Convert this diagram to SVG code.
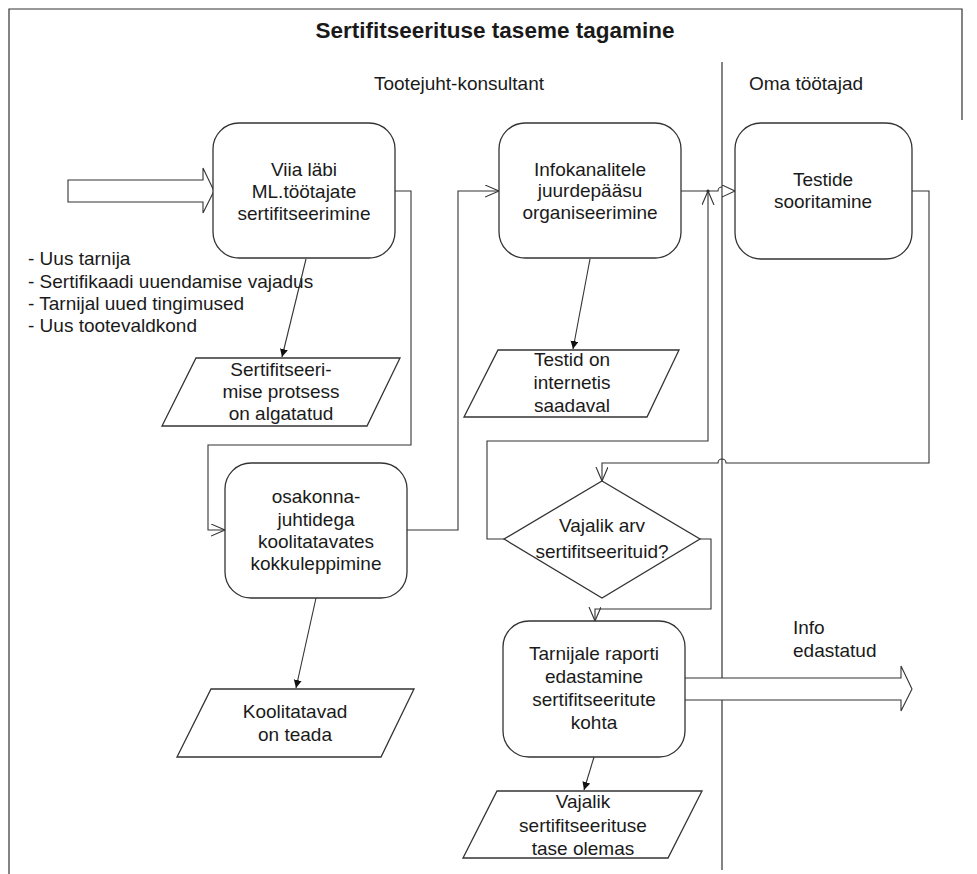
<svg xmlns="http://www.w3.org/2000/svg" width="977" height="874" viewBox="0 0 977 874">
  <style>
    .frame { fill: none; stroke: #333; stroke-width: 1.2; }
    .box { fill: #fff; stroke: #333; stroke-width: 1.3; }
    .conn { fill: none; stroke: #333; stroke-width: 1.1; }
    .big { fill: #fff; stroke: #333; stroke-width: 1.1; }
    text { font-family: "Liberation Sans", Arial, sans-serif; font-size: 19px; fill: #1a1a1a; }
    .c { text-anchor: middle; }
    .title { font-size: 22.5px; font-weight: bold; }
  </style>
  <defs>
    <marker id="open" markerUnits="userSpaceOnUse" markerWidth="16" markerHeight="14" refX="14" refY="6" orient="auto">
      <path d="M0,0 L14,6 L0,12" fill="none" stroke="#333" stroke-width="1.1"/>
    </marker>
    <marker id="tri" markerUnits="userSpaceOnUse" markerWidth="16" markerHeight="14" refX="13" refY="6" orient="auto">
      <path d="M0,0 L13,6 L0,12 Z" fill="#fff" stroke="#333" stroke-width="1.1"/>
    </marker>
    <marker id="solid" markerUnits="userSpaceOnUse" markerWidth="10" markerHeight="10" refX="8" refY="4" orient="auto">
      <path d="M0,0 L8,4 L0,8 Z" fill="#111"/>
    </marker>
  </defs>

  <!-- page frame, title, swimlanes -->
  <g id="frame">
    <path class="frame" d="M9,874 V9 H962 V120"/>
    <text class="title c" x="495" y="38">Sertifitseerituse taseme tagamine</text>
    <text class="c" x="459" y="90">Tootejuht-konsultant</text>
    <text class="c" x="806" y="90">Oma töötajad</text>
    <line class="frame" x1="722" y1="62" x2="722" y2="870" stroke-width="1.1"/>
  </g>

  <!-- triggers -->
  <g id="triggers">
    <text x="28" y="265">- Uus tarnija</text>
    <text x="28" y="288">- Sertifikaadi uuendamise vajadus</text>
    <text x="28" y="310">- Tarnijal uued tingimused</text>
    <text x="28" y="332">- Uus tootevaldkond</text>
  </g>

  <!-- connectors -->
  <g id="connectors">
    <!-- incoming block arrow -->
    <path class="big" d="M68,180 H203 V168 L214,191 L203,213 V202 H68 Z"/>
    <!-- Viia -> osakonna -->
    <path class="conn" d="M395,191 H411 V445 H208 V530 H225" marker-end="url(#open)"/>
    <!-- osakonna -> Infokanalitele -->
    <path class="conn" d="M407,530 H458 V191 H499" marker-end="url(#open)"/>
    <!-- Infokanalitele -> Testide (hop over lane line) -->
    <path class="conn" d="M681,191 H718 A4,4 0 0 1 726,191 H735" marker-end="url(#tri)"/>
    <circle cx="708" cy="191" r="1.6" fill="#333"/>
    <!-- Testide -> decision (hop over lane line) -->
    <path class="conn" d="M912,191 H929 V463 H726 A4,4 0 0 0 718,463 H602 V481" marker-end="url(#open)"/>
    <!-- decision (no) -> back to Testide path -->
    <path class="conn" d="M504,539 H487 V441 H708 V191" marker-end="url(#open)"/>
    <!-- decision (yes) -> Tarnijale -->
    <path class="conn" d="M700,539 H711 V609 H595 V621" marker-end="url(#open)"/>
    <!-- outputs -->
    <line class="conn" x1="306" y1="259" x2="282" y2="357" marker-end="url(#solid)"/>
    <line class="conn" x1="316" y1="598" x2="296" y2="688" marker-end="url(#solid)"/>
    <line class="conn" x1="590" y1="259" x2="573" y2="349" marker-end="url(#solid)"/>
    <line class="conn" x1="594" y1="757" x2="584" y2="790" marker-end="url(#solid)"/>
    <!-- outgoing block arrow -->
    <path class="big" d="M685,678 H901 V666 L912,689 L901,711 V700 H685" fill="none"/>
  </g>

  <g id="n-viia">
    <rect class="box" x="213" y="123" width="182" height="135" rx="26"/>
    <text class="c" x="304" y="176">Viia läbi</text>
    <text class="c" x="304" y="198">ML.töötajate</text>
    <text class="c" x="304" y="220">sertifitseerimine</text>
  </g>

  <g id="n-algatatud">
    <polygon class="box" points="196,358 400,358 367,426 162,426"/>
    <text class="c" x="281" y="376">Sertifitseeri-</text>
    <text class="c" x="281" y="398">mise protsess</text>
    <text class="c" x="281" y="420">on algatatud</text>
  </g>

  <g id="n-osakonna">
    <rect class="box" x="225" y="463" width="182" height="135" rx="26"/>
    <text class="c" x="316" y="503">osakonna-</text>
    <text class="c" x="316" y="526">juhtidega</text>
    <text class="c" x="316" y="548">koolitatavates</text>
    <text class="c" x="316" y="570">kokkuleppimine</text>
  </g>

  <g id="n-koolitatavad">
    <polygon class="box" points="211,689 414,689 381,757 177,757"/>
    <text class="c" x="295" y="718">Koolitatavad</text>
    <text class="c" x="295" y="741">on teada</text>
  </g>

  <g id="n-infokanalid">
    <rect class="box" x="499" y="123" width="182" height="135" rx="26"/>
    <text class="c" x="590" y="176">Infokanalitele</text>
    <text class="c" x="590" y="197">juurdepääsu</text>
    <text class="c" x="590" y="219">organiseerimine</text>
  </g>

  <g id="n-testid-internetis">
    <polygon class="box" points="498,350 679,350 647,417 464,417"/>
    <text class="c" x="572" y="366">Testid on</text>
    <text class="c" x="572" y="389">internetis</text>
    <text class="c" x="572" y="412">saadaval</text>
  </g>

  <g id="n-testide">
    <rect class="box" x="735" y="123" width="177" height="136" rx="26"/>
    <text class="c" x="823" y="186">Testide</text>
    <text class="c" x="823" y="208">sooritamine</text>
  </g>

  <g id="n-otsus">
    <polygon class="box" points="602,481 700,539 602,598 504,539"/>
    <text class="c" x="602" y="532">Vajalik arv</text>
    <text class="c" x="602" y="558">sertifitseerituid?</text>
  </g>

  <g id="n-tarnijale">
    <rect class="box" x="503" y="621" width="182" height="136" rx="26"/>
    <text class="c" x="594" y="660">Tarnijale raporti</text>
    <text class="c" x="594" y="683">edastamine</text>
    <text class="c" x="594" y="706">sertifitseeritute</text>
    <text class="c" x="594" y="729">kohta</text>
  </g>

  <g id="n-tase">
    <polygon class="box" points="497,791 702,791 668,858 463,858"/>
    <text class="c" x="583" y="808">Vajalik</text>
    <text class="c" x="583" y="832">sertifitseerituse</text>
    <text class="c" x="583" y="855">tase olemas</text>
  </g>

  <g id="info-label">
    <text x="793" y="634">Info</text>
    <text x="793" y="657">edastatud</text>
  </g>
</svg>
